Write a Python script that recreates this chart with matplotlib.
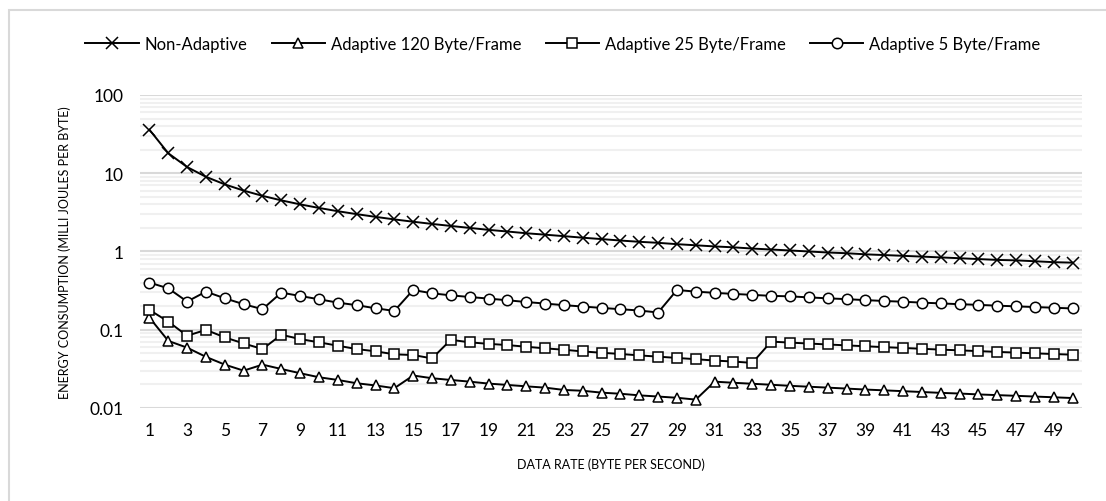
import matplotlib.pyplot as plt
from matplotlib.patches import Rectangle
from matplotlib.ticker import LogLocator, NullFormatter, FixedLocator, FuncFormatter

plt.rcParams['font.family'] = ['Lato', 'DejaVu Sans']

rates = list(range(1, 51))

non_adaptive = [36, 18, 12, 9, 7.2, 6, 5.14, 4.5, 4, 3.6,
                3.27, 3, 2.77, 2.57, 2.4, 2.25, 2.12, 2, 1.89, 1.8,
                1.71, 1.64, 1.57, 1.5, 1.44, 1.38, 1.33, 1.29, 1.24, 1.2,
                1.16, 1.13, 1.09, 1.06, 1.03, 1.0, 0.97, 0.95, 0.92, 0.9,
                0.88, 0.86, 0.84, 0.82, 0.8, 0.78, 0.77, 0.75, 0.73, 0.72]

adaptive_120 = [0.143, 0.072, 0.059, 0.045, 0.0358, 0.030, 0.0358, 0.0315, 0.0278, 0.0247,
                0.0228, 0.0207, 0.0194, 0.0179, 0.026, 0.024, 0.0228, 0.0217, 0.0205, 0.0197,
                0.0189, 0.0182, 0.017, 0.0166, 0.0157, 0.0152, 0.0145, 0.014, 0.0135, 0.0128,
                0.0217, 0.021, 0.0204, 0.0198, 0.0192, 0.0187, 0.0182, 0.0177, 0.0172, 0.0168,
                0.0164, 0.016, 0.0156, 0.0153, 0.0149, 0.0146, 0.0143, 0.014, 0.0137, 0.0134]

adaptive_25 = [0.179, 0.127, 0.0837, 0.0997, 0.0798, 0.0668, 0.0566, 0.0862, 0.076, 0.069,
               0.0625, 0.0566, 0.053, 0.0485, 0.0475, 0.043, 0.0744, 0.069, 0.066, 0.0637,
               0.0606, 0.0578, 0.0555, 0.0528, 0.0508, 0.049, 0.047, 0.0453, 0.0436, 0.042,
               0.0404, 0.0392, 0.0377, 0.0705, 0.0685, 0.0666, 0.0648, 0.0631, 0.0615, 0.0599,
               0.0585, 0.0571, 0.0557, 0.0545, 0.0533, 0.0521, 0.051, 0.0499, 0.0489, 0.048]

adaptive_5 = [0.40, 0.338, 0.229, 0.307, 0.252, 0.212, 0.183, 0.298, 0.27, 0.245,
              0.222, 0.206, 0.188, 0.174, 0.322, 0.292, 0.275, 0.262, 0.25, 0.238,
              0.226, 0.216, 0.206, 0.198, 0.19, 0.183, 0.176, 0.166, 0.322, 0.307,
              0.296, 0.287, 0.279, 0.271, 0.267, 0.259, 0.252, 0.246, 0.239, 0.233,
              0.228, 0.222, 0.217, 0.212, 0.208, 0.203, 0.199, 0.195, 0.191, 0.187]

series = [
    ("Non-Adaptive", non_adaptive, 'x'),
    ("Adaptive 120 Byte/Frame", adaptive_120, '^'),
    ("Adaptive 25 Byte/Frame", adaptive_25, 's'),
    ("Adaptive 5 Byte/Frame", adaptive_5, 'o'),
]

fig = plt.figure(figsize=(11.06, 5.02), dpi=100)
ax = fig.add_axes([0.1266, 0.1853, 0.8517, 0.6235])

# chart border (only top/left visible in the crop)
fig.patches.append(Rectangle((9 / 1106, -0.05), 1.2, 1 - 11 / 502 + 0.05,
                             transform=fig.transFigure, fill=False,
                             edgecolor='#d9d9d9', linewidth=1.5, zorder=0))

for name, vals, mk in series:
    ms = 8 if mk == 'x' else 7.5
    ax.plot(rates, vals, color='black', linewidth=1.4, marker=mk, markersize=ms,
            markerfacecolor='white', markeredgecolor='black', markeredgewidth=1.1,
            label=name, zorder=3)

ax.set_yscale('log')
ax.set_ylim(0.01, 100)
ax.set_xlim(0.5, 50.5)
ax.yaxis.set_major_locator(FixedLocator([0.01, 0.1, 1, 10, 100]))
ax.yaxis.set_major_formatter(FuncFormatter(lambda v, p: f"{v:g}"))
ax.yaxis.set_minor_locator(LogLocator(base=10, subs=range(2, 10)))
ax.yaxis.set_minor_formatter(NullFormatter())
ax.set_xticks(rates[::2])

ax.grid(which='major', axis='y', color='#d9d9d9', linewidth=1.5, zorder=0)
ax.grid(which='minor', axis='y', color='#f0f0f0', linewidth=1.5, zorder=0)
for s in ax.spines.values():
    s.set_visible(False)
ax.tick_params(which='both', length=0, labelsize=12.5, colors='#000000')
ax.tick_params(axis='x', pad=10)
ax.tick_params(axis='y', pad=12)

ax.set_xlabel("DATA RATE (BYTE PER SECOND)", fontsize=9, labelpad=14)
ax.set_ylabel("ENERGY CONSUMPTION (MILLI JOULES PER BYTE)", fontsize=9, labelpad=13)

fig.legend(loc='center', bbox_to_anchor=(0.509, 0.910), ncol=4, frameon=False,
           fontsize=12, handlelength=3.2, columnspacing=1.45, handletextpad=0.36)

plt.savefig('out.png', dpi=100)
